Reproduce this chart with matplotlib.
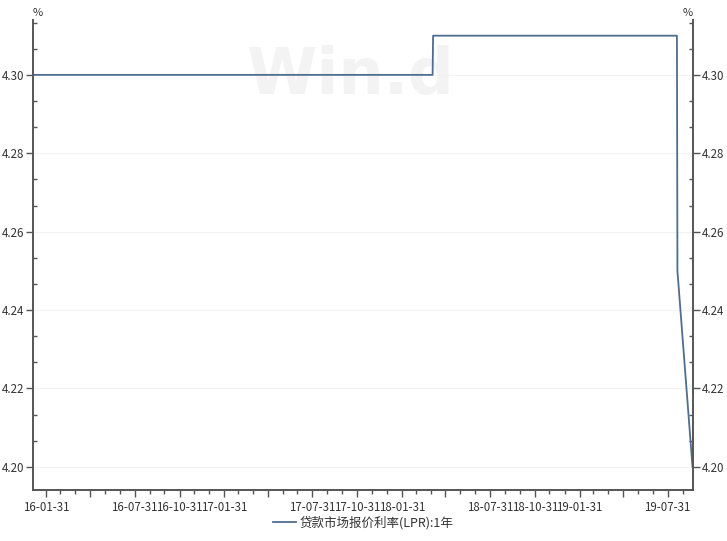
import matplotlib
matplotlib.use("Agg")
from matplotlib import pyplot as plt
from matplotlib import dates as mdates
from matplotlib.ticker import MultipleLocator, AutoMinorLocator, FuncFormatter
import pandas as pd

plt.rcParams['font.family'] = ['Noto Sans CJK SC', 'DejaVu Sans']

# data (change points of the 1-year LPR series)
dates = ['2016-01-04', '2018-04-04', '2018-04-05', '2019-08-19', '2019-08-20', '2019-09-20']
values = [4.30, 4.30, 4.31, 4.31, 4.25, 4.20]
series_name = '贷款市场报价利率(LPR):1年'
tick_labels = ['16-01-31', '16-07-31', '16-10-31', '17-01-31', '17-07-31', '17-10-31',
               '18-01-31', '18-07-31', '18-10-31', '19-01-31', '19-07-31']

x = pd.to_datetime(dates)

fig = plt.figure(figsize=(7.27, 5.41), dpi=100)
ax = fig.add_axes([33 / 727, 51 / 541, 660 / 727, 470 / 541])

ax.plot(x, values, color='#4f6d8f', linewidth=1.3, label=series_name)

ax.set_xlim(pd.Timestamp('2016-01-04'), pd.Timestamp('2019-09-21'))
ax.set_ylim(4.1941, 4.314)

# spines...
for side in ('left', 'right', 'bottom'):
    ax.spines[side].set_color('#555555')
    ax.spines[side].set_linewidth(1.4)
ax.spines['top'].set_visible(False)

# y axis, labels on both sides
ax.yaxis.set_major_locator(MultipleLocator(0.02))
ax.yaxis.set_minor_locator(AutoMinorLocator(3))
ax.yaxis.set_major_formatter(FuncFormatter(lambda v, p: '%.2f' % v))
ax.tick_params(axis='y', which='major', direction='out', length=5, width=1, color='#555555',
               left=True, right=True, labelleft=True, labelright=True, labelsize=8.3,
               labelcolor='#333333', pad=1)
ax.tick_params(axis='y', which='minor', direction='in', length=3, width=1, color='#555555',
               left=True, right=True)

# x axis, quarter ends major, month ends minor
ax.xaxis.set_major_locator(mdates.MonthLocator(bymonth=[1, 4, 7, 10], bymonthday=-1))
ax.xaxis.set_minor_locator(mdates.MonthLocator(bymonthday=-1))


def fmt_date(v, pos):
    label = mdates.num2date(v).strftime('%y-%m-%d')
    return label if label in tick_labels else ''


ax.xaxis.set_major_formatter(FuncFormatter(fmt_date))
ax.tick_params(axis='x', which='major', direction='out', length=5, width=1, color='#555555',
               labelsize=8.3, labelcolor='#333333', pad=3)
ax.tick_params(axis='x', which='minor', direction='out', length=3, width=1, color='#555555')

ax.yaxis.grid(True, which='major', color='#f2f2f2', linewidth=0.8)
ax.set_axisbelow(True)

# watermark
ax.text(0.48, 0.88, 'Win.d', transform=ax.transAxes, fontsize=46, fontweight='bold',
        color='#f3f3f3', ha='center', va='center', family='DejaVu Sans', zorder=0)

# unit labels
ax.text(0.0, 1.005, '%', transform=ax.transAxes, fontsize=8, color='#333333', ha='left', va='bottom')
ax.text(0.985, 1.005, '%', transform=ax.transAxes, fontsize=8, color='#333333', ha='left', va='bottom')

fig.legend(loc='lower center', bbox_to_anchor=(0.5, 0.0), frameon=False, fontsize=9,
           handlelength=1.8, handletextpad=0.3, labelcolor='#333333')

fig.savefig('out.png', dpi=100)
